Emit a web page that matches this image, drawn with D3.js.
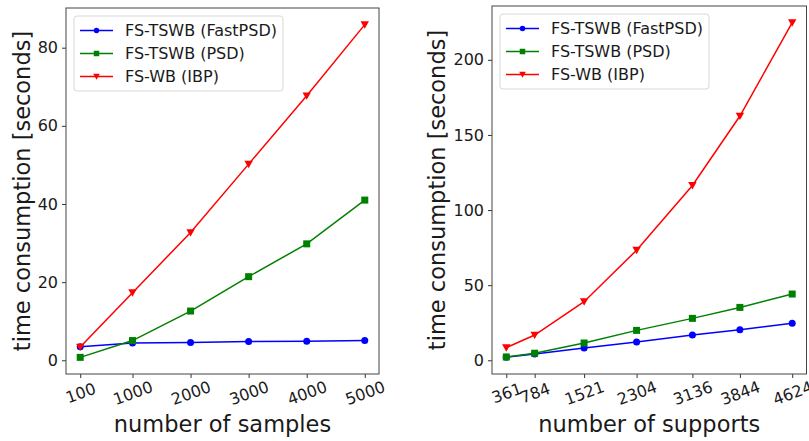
<!DOCTYPE html>
<html>
<head>
<meta charset="utf-8">
<script src="https://cdn.jsdelivr.net/npm/d3@7"></script>
<style>
  body { margin: 0; background: #fff; }
  svg, svg text { font-family: "DejaVu Sans", sans-serif; }
</style>
</head>
<body>
<div id="chart"></div>
<script>
const seriesNames = ["FS-TSWB (FastPSD)", "FS-TSWB (PSD)", "FS-WB (IBP)"];
const seriesColors = ["#0000ff", "#008000", "#ff0000"];
const seriesMarkers = ["circle", "square", "triangle"];

// left panel: number of samples
const samples = [100, 1000, 2000, 3000, 4000, 5000];
const samplesFastPSD = [3.45, 4.4, 4.55, 4.8, 4.9, 5.05];
const samplesPSD = [0.75, 5.05, 12.6, 21.4, 29.8, 41.0];
const samplesIBP = [3.4, 17.3, 32.7, 50.2, 67.7, 85.9];
const samplesYTicks = [0, 20, 40, 60, 80];

// right panel: number of supports
const supports = [361, 784, 1521, 2304, 3136, 3844, 4624];
const supportsFastPSD = [2.0, 4.2, 8.2, 12.2, 16.8, 20.3, 24.6];
const supportsPSD = [2.2, 4.7, 11.5, 19.9, 27.9, 35.2, 44.1];
const supportsIBP = [8.4, 16.8, 39.0, 73.3, 116.4, 162.6, 224.7];
const supportsYTicks = [0, 50, 100, 150, 200];

const width = 809, height = 441;
const svg = d3.select("#chart").append("svg")
    .attr("width", width)
    .attr("height", height);

function drawMarker(g, type, x, y, size, color) {
    if (type === "circle") {
        g.append("circle").attr("cx", x).attr("cy", y).attr("r", size / 2).attr("fill", color);
    } else if (type === "square") {
        g.append("rect").attr("x", x - size / 2).attr("y", y - size / 2)
            .attr("width", size).attr("height", size).attr("fill", color);
    } else {
        const s = size * 0.6;
        g.append("path")
            .attr("d", `M${x - s},${y - s * 0.8} L${x + s},${y - s * 0.8} L${x},${y + s * 0.95} Z`)
            .attr("fill", color);
    }
}

function drawPanel(opt) {
    const { left, right, top, bottom, xs, ys, yTicks, xLabel, yLabelX } = opt;
    const g = svg.append("g");

    const xMin = d3.min(xs), xMax = d3.max(xs);
    const xPad = (xMax - xMin) * 0.05;
    const x = d3.scaleLinear().domain([xMin - xPad, xMax + xPad]).range([left, right]);

    const all = ys.flat();
    const yMin = d3.min(all), yMax = d3.max(all);
    const yPad = (yMax - yMin) * 0.05;
    const y = d3.scaleLinear().domain([yMin - yPad, yMax + yPad]).range([bottom, top]);

    // x axis ticks
    const xAxis = g.append("g").attr("transform", `translate(0,${bottom})`)
        .call(d3.axisBottom(x).tickValues(xs).tickSize(4).tickFormat(d3.format("d")))
        .attr("font-family", "DejaVu Sans");
    xAxis.select(".domain").remove();
    xAxis.selectAll(".tick line").attr("stroke", "#333");
    xAxis.selectAll(".tick text")
        .attr("font-size", 16)
        .attr("fill", "#1a1a1a")
        .attr("y", 0)
        .attr("dy", null)
        .attr("text-anchor", "middle")
        .attr("dominant-baseline", "central")
        .attr("transform", "translate(0,19) rotate(-20)");

    // y axis ticks
    const yAxis = g.append("g").attr("transform", `translate(${left},0)`)
        .call(d3.axisLeft(y).tickValues(yTicks).tickSize(4).tickPadding(4))
        .attr("font-family", "DejaVu Sans");
    yAxis.select(".domain").remove();
    yAxis.selectAll(".tick line").attr("stroke", "#333");
    yAxis.selectAll(".tick text").attr("font-size", 16).attr("fill", "#1a1a1a");

    // lines and markers
    const line = d3.line().x((d, i) => x(xs[i])).y(d => y(d));
    ys.forEach((vals, k) => {
        g.append("path").datum(vals)
            .attr("d", line)
            .attr("fill", "none")
            .attr("stroke", seriesColors[k])
            .attr("stroke-width", 1.5);
        vals.forEach((v, i) => drawMarker(g, seriesMarkers[k], x(xs[i]), y(v), 7, seriesColors[k]));
    });

    // frame
    g.append("rect")
        .attr("x", left).attr("y", top)
        .attr("width", right - left).attr("height", bottom - top)
        .attr("fill", "none").attr("stroke", "#444").attr("stroke-width", 1);

    // legend
    const lg = g.append("g").attr("transform", `translate(${left + 8},${top + 8})`);
    lg.append("rect")
        .attr("x", 0).attr("y", 0).attr("width", 209).attr("height", 75).attr("rx", 3)
        .attr("fill", "#fff").attr("stroke", "#d8d8d8");
    seriesNames.forEach((name, k) => {
        const cy = 14.5 + k * 23;
        lg.append("line").attr("x1", 6).attr("x2", 39).attr("y1", cy).attr("y2", cy)
            .attr("stroke", seriesColors[k]).attr("stroke-width", 1.5);
        drawMarker(lg, seriesMarkers[k], 22.5, cy, 5.5, seriesColors[k]);
        lg.append("text").attr("x", 51).attr("y", cy).attr("dy", "0.35em")
            .attr("font-size", 16).attr("fill", "#1a1a1a").text(name);
    });

    // axis labels
    g.append("text")
        .attr("x", (left + right) / 2).attr("y", 432)
        .attr("text-anchor", "middle").attr("font-size", 22.5).attr("fill", "#1a1a1a")
        .text(xLabel);
    g.append("text")
        .attr("transform", `translate(${yLabelX},${(top + bottom) / 2}) rotate(-90)`)
        .attr("text-anchor", "middle").attr("dy", "0.35em")
        .attr("font-size", 22.5).attr("fill", "#1a1a1a")
        .text("time consumption [seconds]");
}

drawPanel({
    left: 66, right: 379, top: 8, bottom: 374,
    xs: samples,
    ys: [samplesFastPSD, samplesPSD, samplesIBP],
    yTicks: samplesYTicks,
    xLabel: "number of samples",
    yLabelX: 22
});

drawPanel({
    left: 492, right: 806.5, top: 6, bottom: 374,
    xs: supports,
    ys: [supportsFastPSD, supportsPSD, supportsIBP],
    yTicks: supportsYTicks,
    xLabel: "number of supports",
    yLabelX: 437
});
</script>
</body>
</html>
